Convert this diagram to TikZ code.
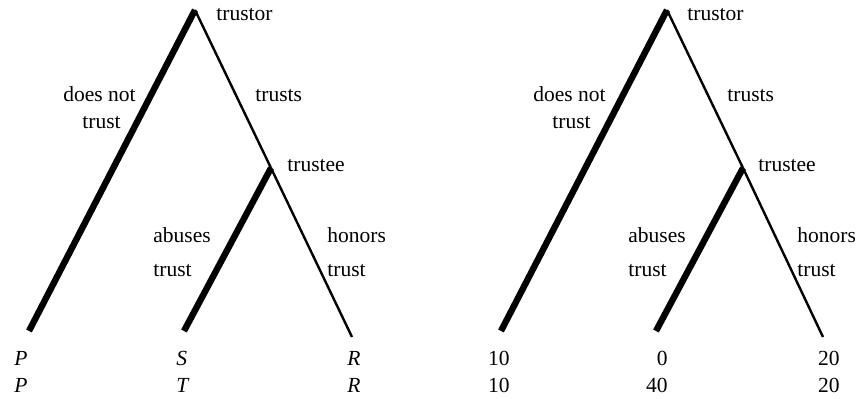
\documentclass[tikz,border=0pt]{standalone}
\usepackage{fontspec}
\setmainfont{Liberation Serif}
\begin{document}
\begin{tikzpicture}[x=0.5pt,y=-0.5pt,
  thickedge/.style={line width=3.2pt},
  thinedge/.style={line width=1.2pt},
  lbl/.style={anchor=base west,inner sep=0pt,font=\fontsize{10.75}{13}\selectfont},
  pay/.style={anchor=base west,inner sep=0pt,font=\fontsize{10.75}{13}\selectfont\itshape},
  num/.style={anchor=base east,inner sep=0pt,font=\fontsize{10.75}{13}\selectfont}]
\useasboundingbox (0,0) rectangle (859,399);
% ---- left tree ----
\coordinate (A1) at (195,10);
\coordinate (B1) at (271,168);
\coordinate (P1) at (29,331);
\coordinate (S1) at (184,331);
\coordinate (R1) at (352,337);
\draw[thickedge] (A1) -- (P1);
\draw[thinedge] (A1) -- (B1);
\draw[thickedge] (B1) -- (S1);
\draw[thinedge] (B1) -- (R1);
\node[lbl] (tor1) at (216,21) {trustor};
\node[lbl] (dn1) at (63,102) {does not};
\node[lbl] (dnt1) at (82,129) {trust};
\node[lbl] (ts1) at (255,102) {trusts};
\node[lbl] (tee1) at (287,172) {trustee};
\node[lbl] (ab1) at (153,243) {abuses};
\node[lbl] (abt1) at (153,277) {trust};
\node[lbl] (ho1) at (327,243) {honors};
\node[lbl] (hot1) at (327,277) {trust};
\node[pay] (p1a) at (14,366) {P};
\node[pay] (p1b) at (14,393) {P};
\node[pay] (s1a) at (176,366) {S};
\node[pay] (s1b) at (176,393) {T};
\node[pay] (r1a) at (347,366) {R};
\node[pay] (r1b) at (347,393) {R};
% ---- right tree ----
\coordinate (A2) at (667,10);
\coordinate (B2) at (743,168);
\coordinate (P2) at (501,331);
\coordinate (S2) at (656,331);
\coordinate (R2) at (823,337);
\draw[thickedge] (A2) -- (P2);
\draw[thinedge] (A2) -- (B2);
\draw[thickedge] (B2) -- (S2);
\draw[thinedge] (B2) -- (R2);
\node[lbl] (tor2) at (687,21) {trustor};
\node[lbl] (dn2) at (533,102) {does not};
\node[lbl] (dnt2) at (552,129) {trust};
\node[lbl] (ts2) at (727,102) {trusts};
\node[lbl] (tee2) at (758,172) {trustee};
\node[lbl] (ab2) at (628,243) {abuses};
\node[lbl] (abt2) at (628,277) {trust};
\node[lbl] (ho2) at (797,243) {honors};
\node[lbl] (hot2) at (797,277) {trust};
\node[num] (p2a) at (510,366) {10};
\node[num] (p2b) at (510,393) {10};
\node[num] (s2a) at (668,366) {0};
\node[num] (s2b) at (668,393) {40};
\node[num] (r2a) at (840,366) {20};
\node[num] (r2b) at (840,393) {20};
\end{tikzpicture}
\end{document}
